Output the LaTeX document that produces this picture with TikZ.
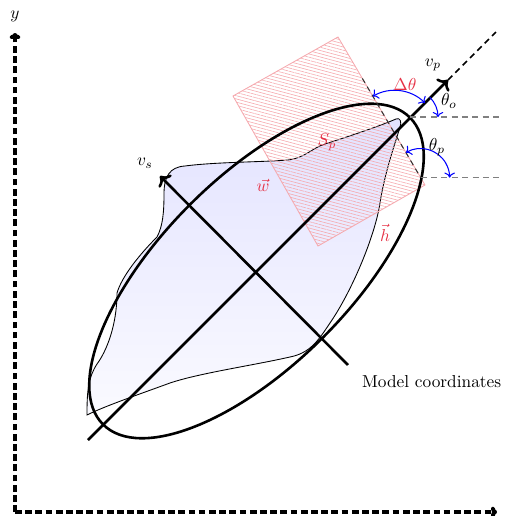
\documentclass[tikz,border=0pt]{standalone}
\usetikzlibrary{arrows.meta,patterns.meta,calc}
\definecolor{lbl}{RGB}{230,50,70}
\definecolor{hatch}{RGB}{245,170,175}
\begin{document}
\begin{tikzpicture}[x=0.578pt,y=0.578pt,
  axis/.style={line width=2.3pt, dash pattern=on 3.9pt off 2pt, -{To[length=3.5pt,width=6pt]}},
  mainline/.style={line width=1.5pt},
  gdash/.style={gray, line width=0.6pt, dash pattern=on 3.5pt off 2.5pt},
  angarc/.style={blue, line width=0.6pt},
  redlbl/.style={text=lbl}]
\useasboundingbox (0,0) rectangle (505,516);
\def\blobpath{(87,101)
 .. controls (87,125) and (88,138) .. (97,152)
 .. controls (106,164) and (117,190) .. (117,223)
 .. controls (122,240) and (140,262) .. (157,279)
 .. controls (163,290) and (164,305) .. (164,322)
 .. controls (164,340) and (170,349) .. (185,350)
 .. controls (215,354) and (265,354) .. (288,356)
 .. controls (305,358) and (312,368) .. (325,372)
 .. controls (350,380) and (380,390) .. (396,397)
 .. controls (400,399) and (402,394) .. (400,389)
 .. controls (396,375) and (385,345) .. (380,313)
 .. controls (375,280) and (352,225) .. (330,193)
 .. controls (318,175) and (310,163) .. (290,159)
 .. controls (250,150) and (200,143) .. (170,133)
 .. controls (140,122) and (105,110) .. (87,101) -- cycle}
% blob
\shade[top color=blue!11, bottom color=blue!2] \blobpath;
\draw[line width=0.5pt] \blobpath;
% rectangle S_p
\coordinate (RT) at (338,479);
\coordinate (RL) at (233,420);
\coordinate (RB) at (318,270);
\coordinate (RR) at (425,331);
\path[pattern={Lines[angle=-15,distance=1.8pt,line width=0.35pt]}, pattern color=hatch] (RT) -- (RL) -- (RB) -- (RR) -- cycle;
\draw[hatch, line width=0.5pt] (RT) -- (RL) -- (RB) -- (RR) -- cycle;
% axes
\coordinate (O) at (15,4);
\coordinate (Ytip) at (15,483);
\coordinate (Xtip) at (497,4);
\draw[axis] (O) -- (Ytip);
\draw[axis] (O) -- (Xtip);
\node (ylab) at (15,500) {$y$};
\node[anchor=west] (xlab) at (500,6) {$x$};
% ellipse
\coordinate (C) at (256.5,245);
\draw[mainline, rotate around={45:(C)}] (C) ellipse [x radius=217, y radius=94];
% v_p and v_s
\coordinate (vp0) at (88,76);
\coordinate (vp1) at (448,436);
\coordinate (vp2) at (496,484);
\draw[mainline,->] (vp0) -- (vp1);
\draw[line width=1pt, dash pattern=on 3.5pt off 2.5pt] (vp1) -- (vp2);
\coordinate (vs0) at (348,151);
\coordinate (vs1) at (160,340);
\draw[mainline,->] (vs0) -- (vs1);
\node (vplab) at (433,451) {$v_p$};
\node (vslab) at (145,353) {$v_s$};
\node[anchor=west] (model) at (356,134) {Model coordinates};
% reference lines
\coordinate (P0) at (410,399);
\coordinate (Pe) at (503,399);
\draw[gdash] (P0) -- (Pe);
\coordinate (E1) at ($(RT)!0.28!(RR)$);
\coordinate (Q) at ($(RT)!0.95!(RR)$);
\coordinate (Qe) at (503,336);
\draw[line width=0.6pt, dash pattern=on 3pt off 2.5pt, black!80] (E1) -- (Q);
\draw[gdash] (Q) -- (Q -| Qe);
% angles
\coordinate (D) at (394.6,382.6);
\draw[angarc,<->] ($(D)+(120.45:43)$) arc[start angle=120.45,end angle=45,radius=43];
\draw[angarc,->] ($(P0)+(45:28)$) arc[start angle=45,end angle=0,radius=28];
\draw[angarc,<->] ($(Q)+(120.45:29)$) arc[start angle=120.45,end angle=0,radius=29];
\node[redlbl] (dth) at (405,432) {$\Delta\theta$};
\node (tho) at (449,415) {$\theta_o$};
\node (thp) at (437,369) {$\theta_p$};
\node[redlbl] (sp) at (327,374) {$S_p$};
\node[redlbl] (wlab) at (263,331) {$\vec{w}$};
\node[redlbl] (hlab) at (385,283) {$\vec{h}$};
\end{tikzpicture}
\end{document}
